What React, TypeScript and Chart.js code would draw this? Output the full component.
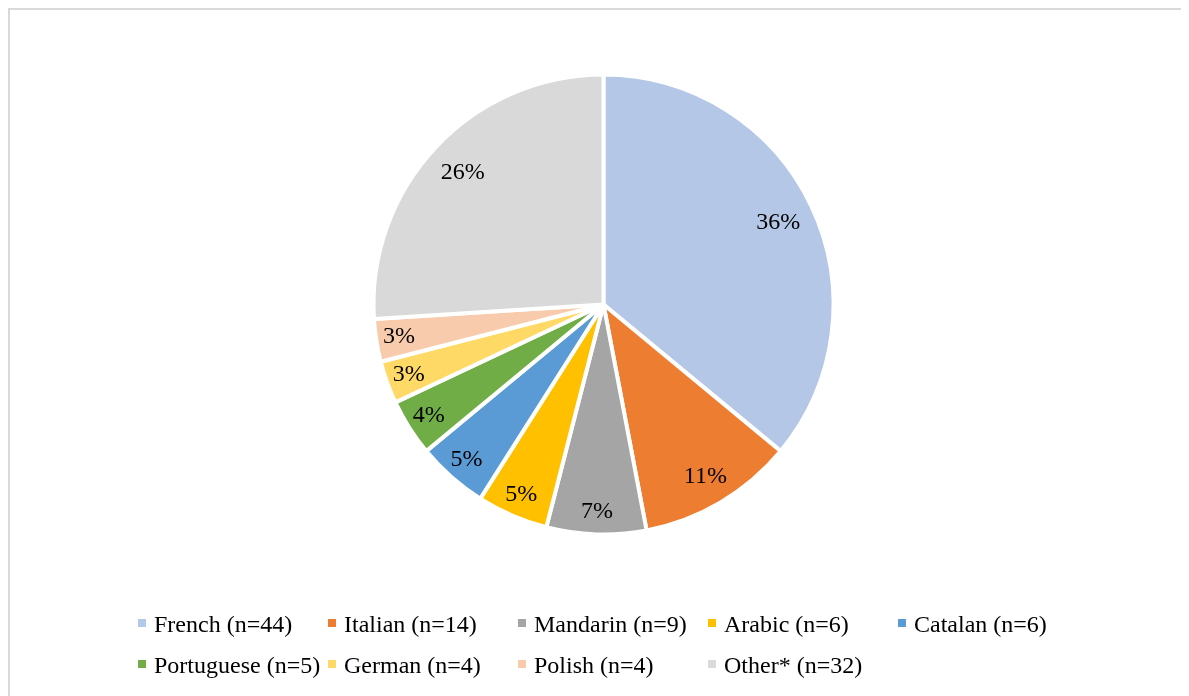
import React, { useEffect, useRef } from "react";
import { Chart, registerables } from "chart.js";

Chart.register(...registerables);

const categories = [
  "French (n=44)",
  "Italian (n=14)",
  "Mandarin (n=9)",
  "Arabic (n=6)",
  "Catalan (n=6)",
  "Portuguese (n=5)",
  "German (n=4)",
  "Polish (n=4)",
  "Other* (n=32)",
];
const shares = [36, 11, 7, 5, 5, 4, 3, 3, 26];
const colors = [
  "#B4C7E7",
  "#ED7D31",
  "#A5A5A5",
  "#FFC000",
  "#5B9BD5",
  "#70AD47",
  "#FFD966",
  "#F8CBAD",
  "#D9D9D9",
];

const FONT = '24px "Liberation Serif", "Times New Roman", serif';
const CANVAS_W = 1190;
const CANVAS_H = 690;

const labelPlugin = {
  id: "pieLabels",
  afterDatasetsDraw(chart: any) {
    const ctx = chart.ctx;
    const meta = chart.getDatasetMeta(0);
    const ds = chart.data.datasets[0];
    const total = (ds.data as number[]).reduce((a, b) => a + b, 0);
    ctx.save();
    ctx.font = FONT;
    ctx.fillStyle = "#000";
    ctx.textAlign = "center";
    ctx.textBaseline = "middle";
    meta.data.forEach((arc: any, i: number) => {
      const { x, y, startAngle, endAngle, outerRadius } = arc.getProps(
        ["x", "y", "startAngle", "endAngle", "outerRadius"],
        true
      );
      const v = ds.data[i] as number;
      const frac = v / total;
      const f = frac >= 0.2 ? 0.84 : frac >= 0.1 ? 0.87 : 0.9;
      const mid = (startAngle + endAngle) / 2;
      const r = outerRadius * f;
      ctx.fillText(v + "%", x + Math.cos(mid) * r, y + Math.sin(mid) * r);
    });
    ctx.restore();
  },
};

const legendPlugin = {
  id: "gridLegend",
  afterDraw(chart: any) {
    const ctx = chart.ctx;
    const area = chart.chartArea;
    const cx = (area.left + area.right) / 2;
    const perRow = 5;
    const colW = 190;
    const rowH = 41;
    const startX = cx - 465.5;
    const firstBaseline = 622;
    const labels = chart.data.labels as string[];
    const bg = chart.data.datasets[0].backgroundColor as string[];
    ctx.save();
    ctx.font = FONT;
    ctx.textAlign = "left";
    ctx.textBaseline = "alphabetic";
    labels.forEach((lab, i) => {
      const col = i % perRow;
      const row = Math.floor(i / perRow);
      const x = startX + col * colW;
      const base = firstBaseline + row * rowH;
      ctx.fillStyle = bg[i];
      ctx.fillRect(x, base - 13, 8, 8);
      ctx.fillStyle = "#000";
      ctx.fillText(lab, x + 16, base);
    });
    ctx.restore();
  },
};

export default function App() {
  const ref = useRef<HTMLCanvasElement | null>(null);

  useEffect(() => {
    document.body.style.overflow = "hidden";
    if (!ref.current) return;
    const chart = new Chart(ref.current, {
      type: "pie",
      data: {
        labels: categories,
        datasets: [
          {
            data: shares,
            backgroundColor: colors,
            borderColor: "#ffffff",
            borderWidth: 4,
            radius: 230,
          } as any,
        ],
      },
      options: {
        responsive: false,
        animation: false,
        devicePixelRatio: 1,
        layout: { padding: { top: 60, bottom: 161, left: 0, right: 3 } },
        plugins: {
          legend: { display: false },
          tooltip: { enabled: false },
        },
      },
      plugins: [labelPlugin, legendPlugin],
    });
    return () => chart.destroy();
  }, []);

  return (
    <div style={{ width: 1181, height: 688, overflow: "hidden" }}>
      <div
        style={{
          width: 1300,
          height: 800,
          borderTop: "2px solid #d9d9d9",
          borderLeft: "2px solid #d9d9d9",
          background: "#fff",
        }}
      >
        <canvas
          ref={ref}
          width={CANVAS_W}
          height={CANVAS_H}
          style={{ display: "block", width: CANVAS_W, height: CANVAS_H }}
        />
      </div>
    </div>
  );
}
